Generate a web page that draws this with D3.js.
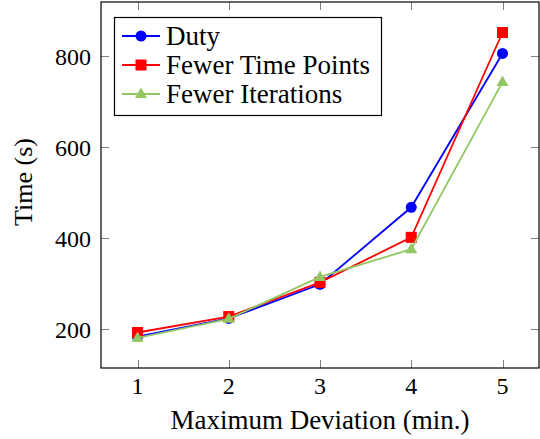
<!DOCTYPE html>
<html><head><meta charset="utf-8">
<script src="https://cdn.jsdelivr.net/npm/d3@7"></script>
<style>body{margin:0;background:#fff}svg{display:block}</style>
</head><body>
<script>
const xValues = [1, 2, 3, 4, 5];
const duty = [184, 224, 299, 468, 806];
const fewerTimePoints = [193, 228, 303, 402, 852];
const fewerIterations = [181, 223, 315, 376, 743];
const xTicks = [1, 2, 3, 4, 5];
const yTicks = [200, 400, 600, 800];
const seriesNames = ["Duty", "Fewer Time Points", "Fewer Iterations"];
const seriesColors = ["#0000ff", "#ff0000", "#92c764"];
const seriesShapes = ["circle", "square", "triangle"];

const W = 540, H = 439;
const m = {left: 101, right: 1, top: 2, bottom: 71};
const FONT = "Liberation Serif, Times New Roman, serif";
const svg = d3.select("body").append("svg").attr("width", W).attr("height", H);
const x = d3.scaleLinear().domain([0.6, 5.4]).range([m.left, W - m.right]);
const y = d3.scaleLinear().domain([115, 919]).range([H - m.bottom, m.top]);

function txt(g, xx, yy, s, anchor, fs) {
  return g.append("text").attr("x", xx).attr("y", yy).attr("font-family", FONT)
    .attr("font-size", fs).attr("text-anchor", anchor || "start").attr("fill", "#000").text(s);
}

// ticks (inside, mirrored)
const tickG = svg.append("g").attr("stroke", "#808080").attr("stroke-width", 1);
const TL = 8;
xTicks.forEach(t => {
  const px = Math.round(x(t)) + 0.5;
  tickG.append("line").attr("x1", px).attr("x2", px).attr("y1", y.range()[0]).attr("y2", y.range()[0] - TL);
  tickG.append("line").attr("x1", px).attr("x2", px).attr("y1", y.range()[1]).attr("y2", y.range()[1] + TL);
});
yTicks.forEach(t => {
  const py = Math.round(y(t)) + 0.5;
  tickG.append("line").attr("x1", x.range()[0]).attr("x2", x.range()[0] + TL).attr("y1", py).attr("y2", py);
  tickG.append("line").attr("x1", x.range()[1]).attr("x2", x.range()[1] - TL).attr("y1", py).attr("y2", py);
});
// frame
svg.append("rect").attr("x", x.range()[0]).attr("y", y.range()[1])
  .attr("width", x.range()[1] - x.range()[0]).attr("height", y.range()[0] - y.range()[1])
  .attr("fill", "none").attr("stroke", "#000").attr("stroke-width", 1.2);

// tick labels
xTicks.forEach(t => txt(svg, x(t), 393.5, t, "middle", 24));
yTicks.forEach(t => txt(svg, 91, y(t) + 8.5, t, "end", 24));

// axis labels
txt(svg, (x.range()[0] + x.range()[1]) / 2, 429, "Maximum Deviation (min.)", "middle", 27);
txt(svg, 0, 0, "Time (s)", "middle", 26).attr("transform", "translate(32,182) rotate(-90)");

function marker(g, shape, cx, cy, color) {
  if (shape === "circle") g.append("circle").attr("cx", cx).attr("cy", cy).attr("r", 5.5).attr("fill", color);
  else if (shape === "square") g.append("rect").attr("x", cx - 5.5).attr("y", cy - 5.5).attr("width", 11).attr("height", 11).attr("fill", color);
  else g.append("path").attr("d", `M${cx},${cy - 6.5}L${cx + 6},${cy + 4}L${cx - 6},${cy + 4}Z`).attr("fill", color);
}

const allSeries = [duty, fewerTimePoints, fewerIterations];
const line = d3.line().x((d, i) => x(xValues[i])).y(d => y(d));
allSeries.forEach((s, k) => {
  const g = svg.append("g");
  g.append("path").datum(s).attr("d", line).attr("fill", "none").attr("stroke", seriesColors[k]).attr("stroke-width", 1.8);
  s.forEach((v, i) => marker(g, seriesShapes[k], x(xValues[i]), y(v), seriesColors[k]));
});

// legend
const lg = svg.append("g");
lg.append("rect").attr("x", 114.5).attr("y", 17.5).attr("width", 267).attr("height", 98)
  .attr("fill", "#fff").attr("stroke", "#000").attr("stroke-width", 1.2);
seriesNames.forEach((n, k) => {
  const cy = 36 + k * 29;
  lg.append("line").attr("x1", 122).attr("x2", 160).attr("y1", cy).attr("y2", cy).attr("stroke", seriesColors[k]).attr("stroke-width", 1.8);
  marker(lg, seriesShapes[k], 141, cy, seriesColors[k]);
  txt(lg, 166, cy + 8.5, n, "start", 27);
});
</script>
</body></html>
